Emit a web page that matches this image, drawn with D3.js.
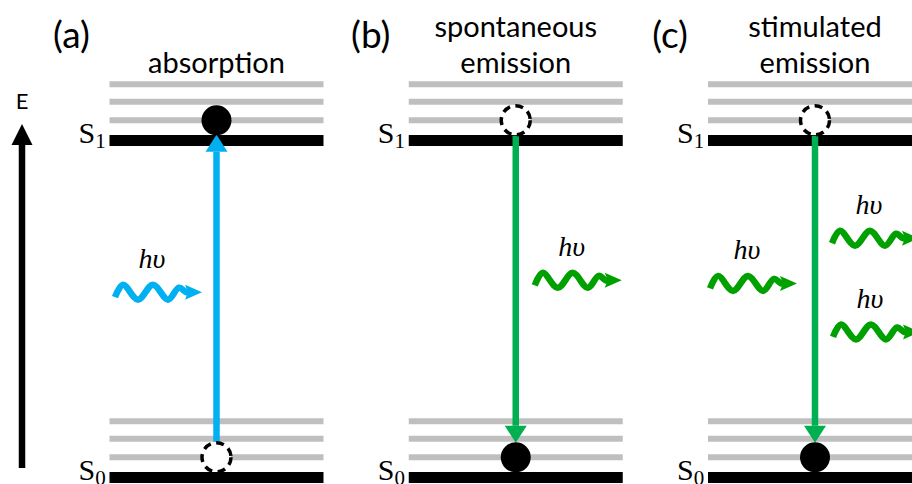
<!DOCTYPE html>
<html>
<head>
<meta charset="utf-8">
<script src="https://cdn.jsdelivr.net/npm/d3@7"></script>
<style>
  body { margin: 0; background: #fff; }
  svg { display: block; }
  .title { font-family: Lato, 'Open Sans', sans-serif; fill: #000; }
  .state { font-family: 'Liberation Serif', 'DejaVu Serif', serif; fill: #000; }
  .hv { font-family: 'Liberation Serif', 'DejaVu Serif', serif; font-style: italic; fill: #000; }
</style>
</head>
<body>
<svg width="912" height="484"></svg>
<script>
// ---- data ----
const panels = ['a', 'b', 'c'];
const panelLabels = ['(a)', '(b)', '(c)'];
const panelTitles = [['absorption'], ['spontaneous', 'emission'], ['stimulated', 'emission']];

// electronic states (energy in units of S1 - S0)
const states = [{ name: 'S', sub: '0', E: 0 }, { name: 'S', sub: '1', E: 1 }];
const vibOffsets = [0.06, 0.115, 0.167];

// transitions: electron goes from (state, vib level) to (state, vib level)
const transitions = [
  { panel: 'a', from: 0, to: 1, color: '#00b0f0' },
  { panel: 'b', from: 1, to: 0, color: '#00b050' },
  { panel: 'c', from: 1, to: 0, color: '#00b050' }
];

// photons: panel, energy height where drawn, horizontal offset from panel centre
const photonPanel = ['a', 'b', 'c', 'c', 'c'];
const photonE     = [0.55, 0.585, 0.576, 0.71, 0.432];
const photonDx    = [-101.5, 19, -105, 17, 18];
const photonColor = ['#00b0f0', '#00a000', '#00a000', '#00a000', '#00a000'];
const photonLabel = 'hυ';

// ---- layout ----
const svg = d3.select('svg');
const width = +svg.attr('width');
const height = +svg.attr('height');

const yScale = d3.scaleLinear().domain([0, 1]).range([477.5, 140.5]);
const xScale = d3.scalePoint().domain(panels).range([216.5, 815]);
const halfLevel = 107;
const r = 14.5;

// energy axis
const eX = 22;
svg.append('line')
    .attr('x1', eX).attr('x2', eX)
    .attr('y1', 468).attr('y2', 143)
    .attr('stroke', '#000').attr('stroke-width', 6.5);
svg.append('path')
    .attr('d', `M${eX - 10.5},145 L${eX},124 L${eX + 10.5},145 Z`)
    .attr('fill', '#000');
svg.append('text')
    .attr('class', 'title')
    .attr('x', eX).attr('y', 109)
    .attr('text-anchor', 'middle')
    .attr('font-size', 22)
    .text('E');

const wavePts = [[0, 5], [8, -7.5], [23, 7.5], [38, -7.5], [53, 7.5], [64, -4.5], [71, 0], [74, 0]];
const waveLine = d3.line().curve(d3.curveCatmullRom.alpha(0.5));

panels.forEach((p, i) => {
  const cx = xScale(p);
  const g = svg.append('g');

  // panel label
  g.append('text')
      .attr('class', 'title')
      .attr('x', cx - 145).attr('y', 48)
      .attr('text-anchor', 'middle')
      .attr('font-size', 37)
      .text(panelLabels[i]);

  // title lines
  const lines = panelTitles[i];
  lines.forEach((t, j) => {
    g.append('text')
        .attr('class', 'title')
        .attr('x', cx)
        .attr('y', 73 - (lines.length - 1 - j) * 36)
        .attr('text-anchor', 'middle')
        .attr('font-size', 29)
        .text(t);
  });

  // vibrational levels
  states.forEach(s => {
    g.selectAll(null).data(vibOffsets).enter().append('line')
        .attr('x1', cx - halfLevel).attr('x2', cx + halfLevel)
        .attr('y1', v => yScale(s.E + v)).attr('y2', v => yScale(s.E + v))
        .attr('stroke', '#bfbfbf').attr('stroke-width', 6);
  });

  // electronic levels
  g.selectAll(null).data(states).enter().append('line')
      .attr('x1', cx - halfLevel).attr('x2', cx + halfLevel)
      .attr('y1', s => yScale(s.E)).attr('y2', s => yScale(s.E))
      .attr('stroke', '#000').attr('stroke-width', 11);

  // state labels
  const lab = g.selectAll(null).data(states).enter().append('text')
      .attr('class', 'state')
      .attr('x', cx - halfLevel - 31)
      .attr('y', s => yScale(s.E) + 2.5)
      .attr('font-size', 30);
  lab.append('tspan').text(s => s.name);
  lab.append('tspan')
      .attr('font-size', 21)
      .attr('dy', 5)
      .text(s => s.sub);
});

// transitions
transitions.forEach(t => {
  const cx = xScale(t.panel);
  const yFrom = yScale(states[t.from].E + vibOffsets[0]);
  const yTo = yScale(states[t.to].E + vibOffsets[0]);
  const dir = yTo < yFrom ? -1 : 1;
  const tip = yTo - dir * r;
  const base = tip - dir * 17;
  const g = svg.append('g');

  g.append('line')
      .attr('x1', cx).attr('x2', cx)
      .attr('y1', yFrom + dir * (r + 1)).attr('y2', base)
      .attr('stroke', t.color).attr('stroke-width', 6.5);
  g.append('path')
      .attr('d', `M${cx - 11},${base} L${cx},${tip} L${cx + 11},${base} Z`)
      .attr('fill', t.color);

  // empty starting place
  g.append('circle')
      .attr('cx', cx).attr('cy', yFrom).attr('r', r)
      .attr('fill', '#fff')
      .attr('stroke', '#000').attr('stroke-width', 3.5)
      .attr('stroke-dasharray', '8,5.5');
  // electron
  g.append('circle')
      .attr('cx', cx).attr('cy', yTo).attr('r', r + 0.5)
      .attr('fill', '#000');
});

// photons
photonE.forEach((e, i) => {
  const x0 = xScale(photonPanel[i]) + photonDx[i];
  const y0 = yScale(e);
  const col = photonColor[i];
  const g = svg.append('g').attr('transform', `translate(${x0},${y0})`);
  g.append('path')
      .attr('d', waveLine(wavePts))
      .attr('fill', 'none')
      .attr('stroke', col)
      .attr('stroke-width', 6.5)
      .attr('stroke-linecap', 'butt');
  g.append('path')
      .attr('d', 'M70,-7.5 L87,0 L70,7.5 L73,0 Z')
      .attr('fill', col);
  g.append('text')
      .attr('class', 'hv')
      .attr('x', 37).attr('y', -24)
      .attr('text-anchor', 'middle')
      .attr('font-size', 28)
      .text(photonLabel);
});
</script>
</body>
</html>
